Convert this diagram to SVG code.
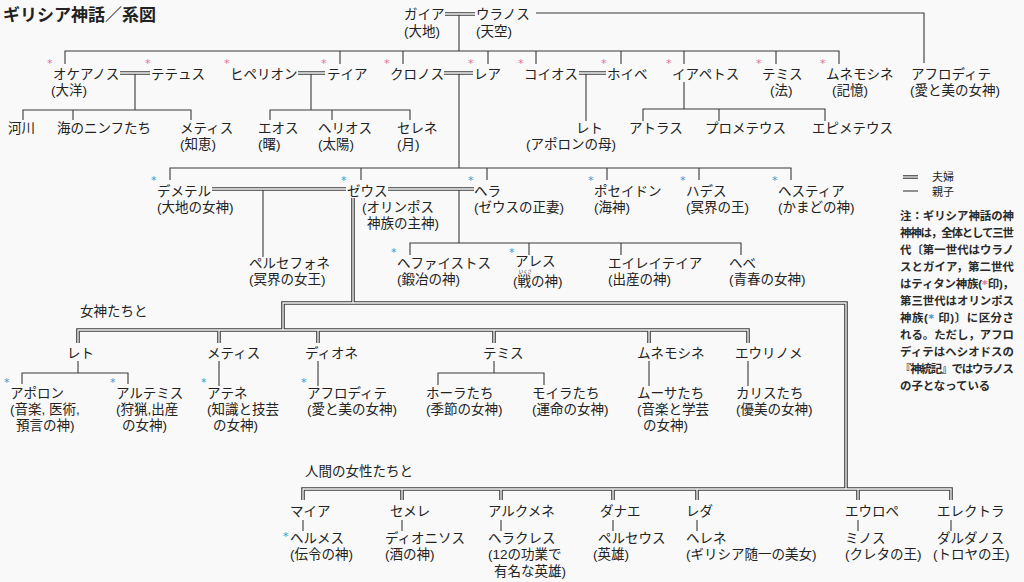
<svg xmlns="http://www.w3.org/2000/svg" width="1024" height="582" viewBox="0 0 1024 582">
<style>
.bg{fill:#f9f9f9}
.ln{fill:none;stroke:#3a3a3a;stroke-width:1.1}
.dbo{fill:none;stroke:#3a3a3a;stroke-width:3.6}
.dbi{fill:none;stroke:#f9f9f9;stroke-width:1.3}
text{font-family:"Liberation Sans","Noto Sans CJK JP","Noto Sans CJK SC",sans-serif;font-size:13.5px;fill:#222}
.title{font-family:"Noto Sans CJK JP",sans-serif;font-size:17px;font-weight:bold}
.ap,.ab{font-family:"DejaVu Sans",sans-serif;font-size:11px}
.ap{fill:#e36fa0}
.ab{fill:#3399d6}
.note{font-size:11.4px;font-weight:bold;fill:#2a2a2a}
.leg{font-size:11px}
.ruby{font-size:4.4px}
</style>
<rect class="bg" x="0" y="0" width="1024" height="582"/>
<text class="title" x="3" y="21">ギリシア神話／系図</text>

<g id="connectors">
  <g id="parent-child">
    <path class="ln" d="M459,14 V51 M65,64 V51 H839 V64 M340,51 V64 M403,51 V64 M488,51 V64 M536,51 V64 M621,51 V64 M684,51 V64 M776,51 V64"/>
    <path class="ln" d="M536,13 H924 V63"/>
    <path class="ln" d="M135,73 V110 M23,120 V110 H191 V120 M73,110 V120"/>
    <path class="ln" d="M311,73 V110 M270,120 V110 H410 V120 M332,110 V120"/>
    <path class="ln" d="M586,73 V121"/>
    <path class="ln" d="M684,82 V109 M643,121 V109 H825 V121 M719,109 V121"/>
    <path class="ln" d="M459,73 V168 M170,180 V168 H791 V180 M361,168 V180 M487,168 V180 M607,168 V180 M699,168 V180"/>
    <path class="ln" d="M263,189 V257"/>
    <path class="ln" d="M459,189 V243 M410,255 V243 H741 V255 M529,243 V255 M621,243 V255"/>
    <path class="ln" d="M78,361 V373 M22,384 V373 H128 V384 M219,361 V386 M318,361 V386 M494,361 V373 M438,385 V373 H544 V385 M649,361 V386 M748,361 V386"/>
    <path class="ln" d="M303,520 V531 M402,520 V531 M501,520 V531 M613,520 V531 M697,520 V531 M858,520 V531 M951,520 V531"/>
  </g>
  <g id="marriage">
    <path class="dbo" d="M445,14 H475 M120,73 H150 M298,73 H325 M444,73 H473 M579,73 H606 M212,189 H346 M388,189 H474 M353,198 V303 M283,330 V303 H846 V489 M78,343 V330 H748 V343 M219,330 V343 M318,330 V343 M494,330 V343 M649,330 V343 M303,500 V489 H951 V500 M402,489 V500 M501,489 V500 M613,489 V500 M697,489 V500 M858,489 V500"/>
    <path class="dbi" d="M445,14 H475 M120,73 H150 M298,73 H325 M444,73 H473 M579,73 H606 M212,189 H346 M388,189 H474 M353,198 V303 M283,330 V303 H846 V489 M78,343 V330 H748 V343 M219,330 V343 M318,330 V343 M494,330 V343 M649,330 V343 M303,500 V489 H951 V500 M402,489 V500 M501,489 V500 M613,489 V500 M697,489 V500 M858,489 V500"/>
  </g>
</g>

<!-- generation 1 -->
<g id="gaia"><text><tspan x="404" y="19">ガイア</tspan><tspan x="404" y="36">(大地)</tspan></text></g>
<g id="uranus"><text><tspan x="476" y="19">ウラノス</tspan><tspan x="476" y="36">(天空)</tspan></text></g>

<!-- titans -->
<g id="oceanus"><text class="ap" x="47" y="67">*</text><text><tspan x="53" y="79">オケアノス</tspan><tspan x="51" y="95">(大洋)</tspan></text></g>
<g id="tethys"><text class="ap" x="145" y="67">*</text><text x="151" y="79">テテュス</text></g>
<g id="hyperion"><text class="ap" x="224" y="67">*</text><text x="230" y="79">ヒペリオン</text></g>
<g id="theia"><text class="ap" x="321" y="67">*</text><text x="327" y="79">テイア</text></g>
<g id="cronus"><text class="ap" x="384" y="67">*</text><text x="390" y="79">クロノス</text></g>
<g id="rhea"><text class="ap" x="468" y="67">*</text><text x="474" y="79">レア</text></g>
<g id="coeus"><text class="ap" x="518" y="67">*</text><text x="524" y="79">コイオス</text></g>
<g id="phoebe"><text class="ap" x="601" y="67">*</text><text x="607" y="79">ホイベ</text></g>
<g id="iapetus"><text class="ap" x="666" y="67">*</text><text x="672" y="79">イアペトス</text></g>
<g id="themis-t"><text class="ap" x="756" y="67">*</text><text><tspan x="762" y="79">テミス</tspan><tspan x="770" y="95">(法)</tspan></text></g>
<g id="mnemosyne-t"><text class="ap" x="820" y="67">*</text><text><tspan x="826" y="79">ムネモシネ</tspan><tspan x="832" y="95">(記憶)</tspan></text></g>
<g id="aphrodite-u"><text><tspan x="911" y="79">アフロディテ</tspan><tspan x="910" y="95">(愛と美の女神)</tspan></text></g>

<!-- children of titans -->
<g id="rivers"><text x="8" y="133">河川</text></g>
<g id="nymphs"><text x="57" y="133">海のニンフたち</text></g>
<g id="metis-o"><text><tspan x="180" y="133">メティス</tspan><tspan x="180" y="149">(知恵)</tspan></text></g>
<g id="eos"><text><tspan x="258" y="133">エオス</tspan><tspan x="258" y="149">(曙)</tspan></text></g>
<g id="helios"><text><tspan x="318" y="133">ヘリオス</tspan><tspan x="318" y="149">(太陽)</tspan></text></g>
<g id="selene"><text><tspan x="397" y="133">セレネ</tspan><tspan x="397" y="149">(月)</tspan></text></g>
<g id="leto-c"><text><tspan x="576" y="133">レト</tspan><tspan x="526" y="149">(アポロンの母)</tspan></text></g>
<g id="atlas"><text x="629" y="133">アトラス</text></g>
<g id="prometheus"><text x="705" y="133">プロメテウス</text></g>
<g id="epimetheus"><text x="812" y="133">エピメテウス</text></g>

<!-- olympians -->
<g id="demeter"><text class="ab" x="151" y="184">*</text><text><tspan x="157" y="196">デメテル</tspan><tspan x="157" y="211.5">(大地の女神)</tspan></text></g>
<g id="zeus"><text class="ab" x="341" y="184">*</text><text><tspan x="347" y="196">ゼウス</tspan><tspan x="362" y="211.5">(オリンポス</tspan><tspan x="367" y="227.5">神族の主神)</tspan></text></g>
<g id="hera"><text class="ab" x="468" y="184">*</text><text><tspan x="474" y="196">ヘラ</tspan><tspan x="474" y="211.5">(ゼウスの正妻)</tspan></text></g>
<g id="poseidon"><text class="ab" x="588" y="184">*</text><text><tspan x="594" y="196">ポセイドン</tspan><tspan x="594" y="211.5">(海神)</tspan></text></g>
<g id="hades"><text class="ab" x="680" y="184">*</text><text><tspan x="686" y="196">ハデス</tspan><tspan x="686" y="211.5">(冥界の王)</tspan></text></g>
<g id="hestia"><text class="ab" x="772" y="184">*</text><text><tspan x="778" y="196">ヘスティア</tspan><tspan x="778" y="211.5">(かまどの神)</tspan></text></g>

<g id="persephone"><text><tspan x="249" y="268">ペルセフォネ</tspan><tspan x="249" y="284">(冥界の女王)</tspan></text></g>
<g id="hephaestus"><text class="ab" x="391" y="256">*</text><text><tspan x="397" y="268">ヘファイストス</tspan><tspan x="397" y="284">(鍛冶の神)</tspan></text></g>
<g id="ares"><text class="ab" x="509" y="256">*</text><text><tspan x="515" y="266.3">アレス</tspan><tspan class="ruby" x="518.8" y="273">いくさ</tspan><tspan x="513" y="286">(戦の神)</tspan></text></g>
<g id="eileithyia"><text><tspan x="608" y="268">エイレイテイア</tspan><tspan x="608" y="284">(出産の神)</tspan></text></g>
<g id="hebe"><text><tspan x="729" y="268">ヘベ</tspan><tspan x="729" y="284">(青春の女神)</tspan></text></g>

<!-- goddesses -->
<text x="80" y="316">女神たちと</text>
<g id="leto"><text x="67" y="358">レト</text></g>
<g id="metis"><text x="207" y="358">メティス</text></g>
<g id="dione"><text x="305" y="358">ディオネ</text></g>
<g id="themis"><text x="483" y="358">テミス</text></g>
<g id="mnemosyne"><text x="637" y="358">ムネモシネ</text></g>
<g id="eurynome"><text x="735" y="358">エウリノメ</text></g>

<g id="apollo"><text class="ab" x="4" y="386">*</text><text><tspan x="10" y="398">アポロン</tspan><tspan x="10" y="414">(音楽, 医術,</tspan><tspan x="16" y="430">預言の神)</tspan></text></g>
<g id="artemis"><text class="ab" x="110" y="386">*</text><text><tspan x="116" y="398">アルテミス</tspan><tspan x="116" y="414">(狩猟,出産</tspan><tspan x="122" y="430">の女神)</tspan></text></g>
<g id="athena"><text class="ab" x="201" y="386">*</text><text><tspan x="207" y="398">アテネ</tspan><tspan x="207" y="414">(知識と技芸</tspan><tspan x="213" y="430">の女神)</tspan></text></g>
<g id="aphrodite"><text class="ab" x="301" y="386">*</text><text><tspan x="307" y="398">アフロディテ</tspan><tspan x="307" y="414">(愛と美の女神)</tspan></text></g>
<g id="horae"><text><tspan x="426" y="398">ホーラたち</tspan><tspan x="426" y="414">(季節の女神)</tspan></text></g>
<g id="moirai"><text><tspan x="532" y="398">モイラたち</tspan><tspan x="532" y="414">(運命の女神)</tspan></text></g>
<g id="muses"><text><tspan x="637" y="398">ムーサたち</tspan><tspan x="637" y="414">(音楽と学芸</tspan><tspan x="643" y="430">の女神)</tspan></text></g>
<g id="charites"><text><tspan x="736" y="398">カリスたち</tspan><tspan x="736" y="414">(優美の女神)</tspan></text></g>

<!-- mortal women -->
<text x="305" y="476">人間の女性たちと</text>
<g id="maia"><text x="290" y="516">マイア</text></g>
<g id="semele"><text x="390" y="516">セメレ</text></g>
<g id="alcmene"><text x="488" y="516">アルクメネ</text></g>
<g id="danae"><text x="600" y="516">ダナエ</text></g>
<g id="leda"><text x="686" y="516">レダ</text></g>
<g id="europa"><text x="845" y="516">エウロペ</text></g>
<g id="electra"><text x="937" y="516">エレクトラ</text></g>

<g id="hermes"><text class="ab" x="283" y="540">*</text><text><tspan x="290" y="543">ヘルメス</tspan><tspan x="290" y="559">(伝令の神)</tspan></text></g>
<g id="dionysus"><text><tspan x="385" y="543">ディオニソス</tspan><tspan x="385" y="559">(酒の神)</tspan></text></g>
<g id="heracles"><text><tspan x="488" y="543">ヘラクレス</tspan><tspan x="488" y="559">(12の功業で</tspan><tspan x="494" y="576">有名な英雄)</tspan></text></g>
<g id="perseus"><text><tspan x="598" y="543">ペルセウス</tspan><tspan x="593" y="559">(英雄)</tspan></text></g>
<g id="helen"><text><tspan x="686" y="543">ヘレネ</tspan><tspan x="686" y="559">(ギリシア随一の美女)</tspan></text></g>
<g id="minos"><text><tspan x="845" y="543">ミノス</tspan><tspan x="845" y="559">(クレタの王)</tspan></text></g>
<g id="dardanus"><text><tspan x="937" y="543">ダルダノス</tspan><tspan x="933" y="559">(トロヤの王)</tspan></text></g>

<!-- legend -->
<g id="legend">
  <path class="dbo" d="M903,177 H918"/>
  <path class="dbi" d="M903,177 H918"/>
  <path class="ln" d="M903,191 H918"/>
  <text class="leg"><tspan x="932" y="181">夫婦</tspan><tspan x="932" y="196">親子</tspan></text>
</g>

<g id="note">
  <text class="note" x="900" y="220" textLength="114" lengthAdjust="spacing">注：ギリシア神話の神</text>
  <text class="note" x="900" y="237" textLength="114" lengthAdjust="spacing">神神は，全体として三世</text>
  <text class="note" x="900" y="254" textLength="114" lengthAdjust="spacing">代〔第一世代はウラノ</text>
  <text class="note" x="900" y="271" textLength="114" lengthAdjust="spacing">スとガイア，第二世代</text>
  <text class="note" x="900" y="288" textLength="114" lengthAdjust="spacing">はティタン神族(<tspan class="ap" font-size="9">*</tspan>印)，</text>
  <text class="note" x="900" y="305" textLength="114" lengthAdjust="spacing">第三世代はオリンポス</text>
  <text class="note" x="900" y="322" textLength="114" lengthAdjust="spacing">神族(<tspan class="ab" font-size="9">*</tspan> 印)〕に区分さ</text>
  <text class="note" x="900" y="339" textLength="114" lengthAdjust="spacing">れる。ただし，アフロ</text>
  <text class="note" x="900" y="356" textLength="114" lengthAdjust="spacing">ディテはヘシオドスの</text>
  <text class="note" x="900" y="373" textLength="114" lengthAdjust="spacing">『神統記』ではウラノス</text>
  <text class="note" x="900" y="390">の子となっている</text>
</g>
</svg>
